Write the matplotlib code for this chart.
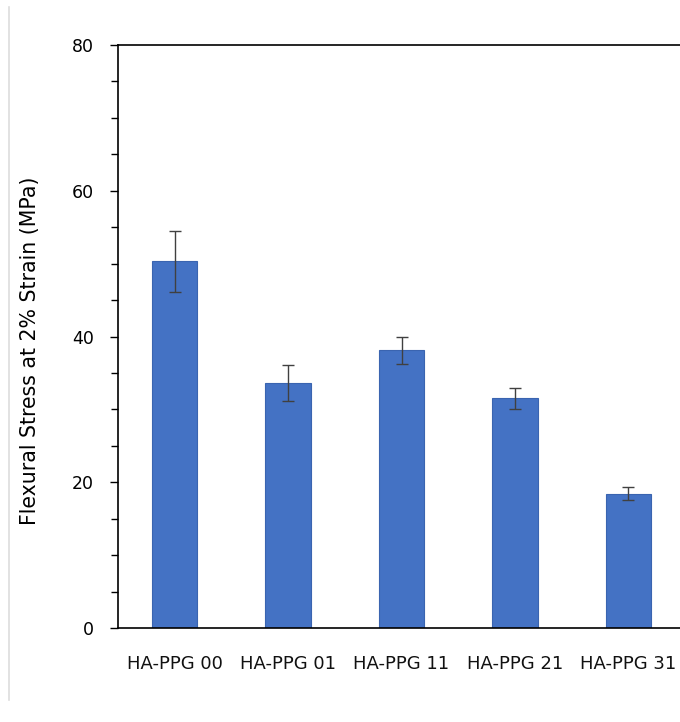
import matplotlib
matplotlib.use("Agg")
import matplotlib.pyplot as plt
from matplotlib.ticker import MultipleLocator
from matplotlib.lines import Line2D

categories = ["HA-PPG 00", "HA-PPG 01", "HA-PPG 11", "HA-PPG 21", "HA-PPG 31"]
values = [50.3, 33.6, 38.1, 31.5, 18.4]
errors = [4.2, 2.5, 1.9, 1.4, 0.9]

fig = plt.figure(figsize=(6.8, 7.22), dpi=100)
ax = fig.add_axes([118/680, 94/722, 567/680, 583/722])

x = list(range(len(categories)))
ax.bar(x, values, width=0.4, color="#4472C4", edgecolor="#3A64B0", linewidth=0.8,
       yerr=errors, error_kw=dict(ecolor="#404040", elinewidth=1.0, capsize=4, capthick=1.0),
       zorder=2)

ax.set_xlim(-0.5, 4.5)
ax.set_ylim(0, 80)
ax.set_xticks(x)
ax.set_xticklabels(categories)
ax.yaxis.set_major_locator(MultipleLocator(20))
ax.yaxis.set_minor_locator(MultipleLocator(5))
ax.tick_params(axis="x", length=0, pad=19.5, labelsize=13, colors="#111111")
ax.tick_params(axis="y", which="major", direction="out", length=6, width=1, labelsize=12.5, pad=11.5,
               colors="black")
ax.tick_params(axis="y", which="minor", direction="out", length=5, width=1)
for sp in ax.spines.values():
    sp.set_linewidth(1.2)
    sp.set_color("black")
ax.spines["right"].set_visible(False)

ax.set_ylabel("Flexural Stress at 2% Strain (MPa)", fontsize=14.8)
ax.yaxis.set_label_coords(-0.138, 0.475)

fig.add_artist(Line2D([9/680, 9/680], [0.03, 0.99], transform=fig.transFigure,
                      color="#dddddd", linewidth=1.2))

fig.savefig("out.png", dpi=100)
